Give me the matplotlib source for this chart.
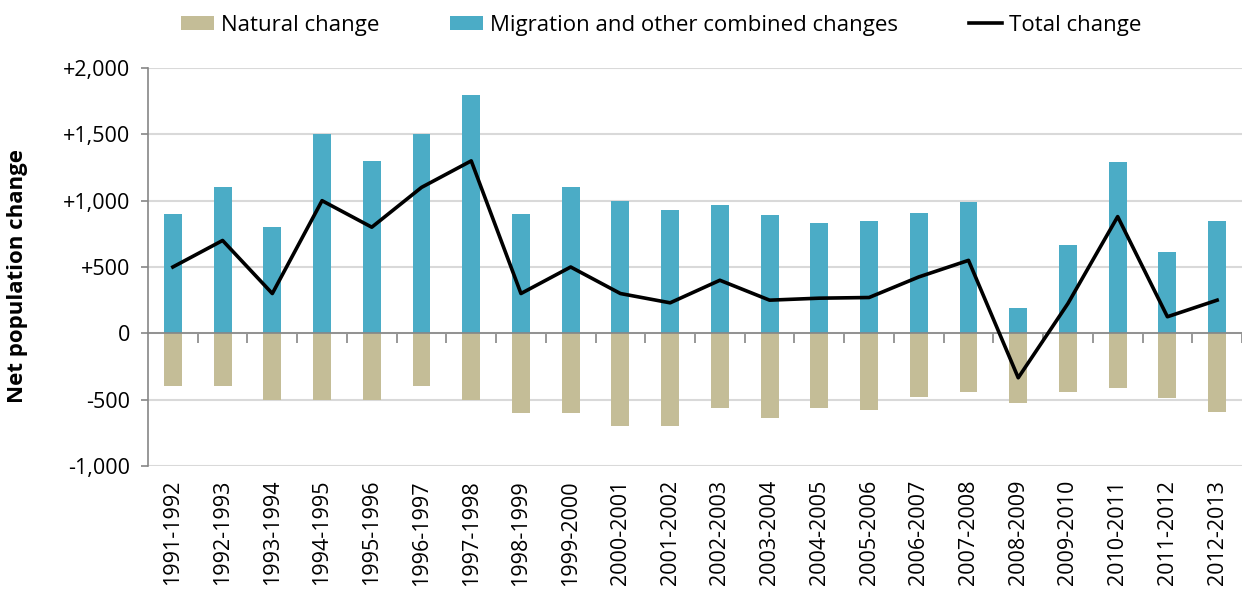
import matplotlib.pyplot as plt
import numpy as np

years = ["1991-1992", "1992-1993", "1993-1994", "1994-1995", "1995-1996", "1996-1997",
         "1997-1998", "1998-1999", "1999-2000", "2000-2001", "2001-2002", "2002-2003",
         "2003-2004", "2004-2005", "2005-2006", "2006-2007", "2007-2008", "2008-2009",
         "2009-2010", "2010-2011", "2011-2012", "2012-2013"]
natural = [-400, -400, -500, -500, -500, -400, -500, -600, -600, -700, -700, -565,
           -640, -565, -580, -480, -440, -525, -440, -410, -490, -595]
migration = [900, 1100, 800, 1500, 1300, 1500, 1800, 900, 1100, 1000, 930, 965,
             890, 830, 850, 905, 990, 190, 665, 1290, 615, 845]
total = [500, 700, 300, 1000, 800, 1100, 1300, 300, 500, 300, 230, 400,
         250, 265, 270, 425, 550, -335, 225, 880, 125, 250]
yticks = [-1000, -500, 0, 500, 1000, 1500, 2000]
ytick_labels = ["-1,000", "-500", "0", "+500", "+1,000", "+1,500", "+2,000"]

plt.rcParams['font.family'] = ['Open Sans', 'DejaVu Sans']

fig = plt.figure(figsize=(12.42, 5.98), dpi=100)
ax = fig.add_axes([148/1242, 132/598, 1094/1242, 398/598])

x = np.arange(len(years))
b1 = ax.bar(x, natural, width=0.36, color="#C4BD97", label="Natural change", zorder=2)
b2 = ax.bar(x, migration, width=0.36, color="#4BACC6",
            label="Migration and other combined changes", zorder=2)
l1, = ax.plot(x, total, color="black", lw=2.6, label="Total change", zorder=3)

ax.set_xlim(-0.5, len(years) - 0.5)
ax.set_ylim(-1000, 2000)
ax.set_yticks(yticks, ytick_labels, fontsize=15.5)
ax.yaxis.grid(True, color="#d9d9d9", lw=1.5, zorder=0)
ax.set_axisbelow(True)

for s in ["top", "right"]:
    ax.spines[s].set_visible(False)
ax.spines["left"].set_color("#868686")
ax.spines["left"].set_linewidth(1.2)
ax.spines["bottom"].set_position(("data", 0))
ax.spines["bottom"].set_color("#868686")
ax.spines["bottom"].set_linewidth(1.2)
ax.spines["bottom"].set_zorder(2.5)
ax.tick_params(axis="y", colors="#868686", labelcolor="black", length=5, width=1.2, pad=8)

ax.set_xticks(x + 0.5)
ax.set_xticklabels([])
ax.tick_params(axis="x", colors="#868686", length=7, width=1.2, direction="out")

sec = ax.secondary_xaxis(0.0)
sec.set_xticks(x, years, rotation=90, fontsize=15.5)
sec.tick_params(length=0, pad=10)
sec.spines["bottom"].set_visible(False)

fig.text(18/1242, 1 - 276/598, "Net population change", rotation=90, fontsize=16,
         fontweight="bold", ha="center", va="center")

fig.legend(handles=[b1, b2, l1], loc="center", bbox_to_anchor=(661/1242, 1 - 25/598),
           ncol=3, frameon=False, fontsize=16, handlelength=1.5, handleheight=0.6,
           columnspacing=3.2, handletextpad=0.3)

fig.savefig("out.png", dpi=100)
